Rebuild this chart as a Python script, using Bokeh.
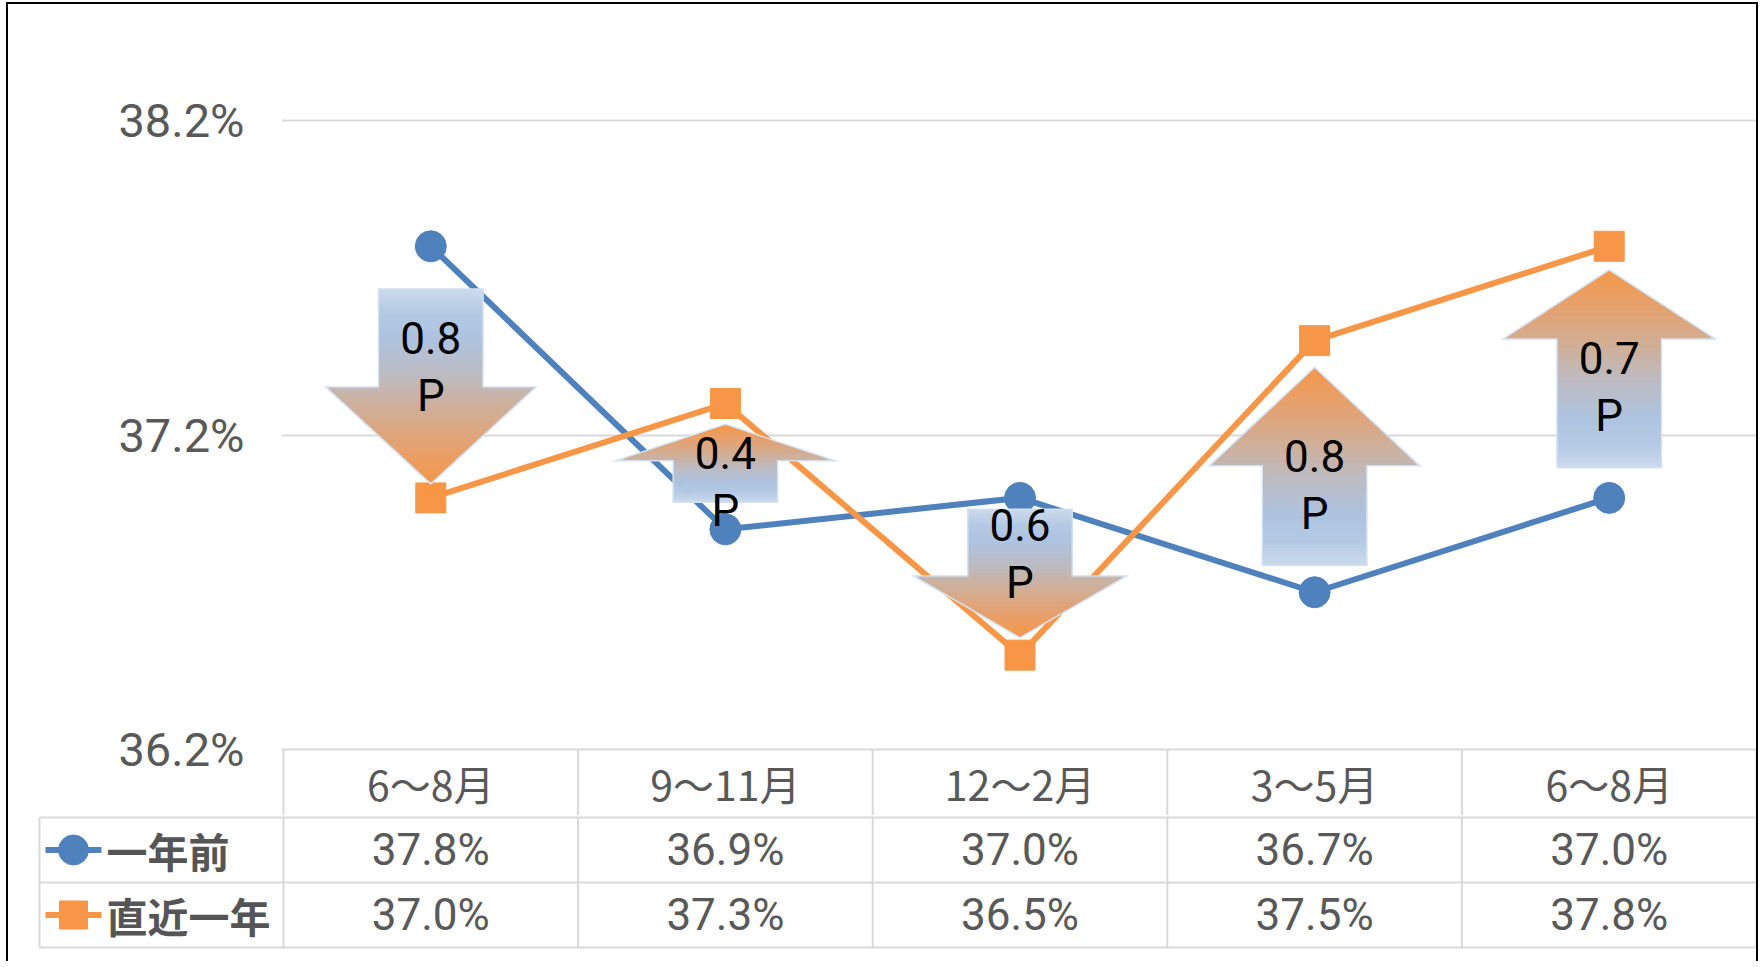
import numpy as np
from bokeh.plotting import figure
from bokeh.models import Range1d, FixedTicker, PrintfTickFormatter
from bokeh.layouts import column
from bokeh.core.properties import value
from bokeh.embed import file_html
from bokeh.resources import INLINE

# ---------------- data ----------------
categories = ["6～8月", "9～11月", "12～2月", "3～5月", "6～8月"]
series_names = ["一年前", "直近一年"]
year_ago = [37.8, 36.9, 37.0, 36.7, 37.0]
latest = [37.0, 37.3, 36.5, 37.5, 37.8]
diff_points = [0.8, 0.4, 0.6, 0.8, 0.7]   # labels written in the arrows
y_ticks = [36.2, 37.2, 38.2]

# ---------------- styles / layout (pixels) ----------------
BLUE = "#4f81bd"
ORANGE = "#f79646"
GRID = "#d9d9d9"
TXT = "#595959"
NUM_FONT = "Roboto"
CJK_FONT = "Noto Sans CJK JP"

W = 1748               # inner width (inside border)
F1_LEFT = 273          # canvas px left of plot frame
PX_PER_CAT = 294.6
PX_PER_Y = 314.5       # px per 1 percentage point
TOP_PAD = 116          # px from frame top to top gridline
HEADER_H = 66          # header row of data table (inside figure 1 frame)
ROW_H = 65
F2_LEFT = 29           # canvas px left of table frame
TABLE_EDGE = 244       # px from table left line to first category column
LINE_W = 6

# arrow styling (per arrow, relative to the two data points)
tail_gap = [0.14, 0.09, 0.04, 0.09, 0.10]
tip_gap = [0.05, 0.07, 0.06, 0.09, 0.08]
head_frac = [0.49, 0.45, 0.47, 0.49, 0.34]
SHAFT_HALF = 51 / PX_PER_CAT
HEAD_HALF = 102 / PX_PER_CAT
grad_stops = [(0.0, "#cbdaed"), (0.12, "#b4c9e3"), (0.25, "#adc3e0"),
              (0.45, "#bdbac0"), (0.6, "#ceb09c"), (0.8, "#e3a272"), (1.0, "#f5984a")]


def hex2rgb(h):
    h = h.lstrip("#")
    return [int(h[i:i + 2], 16) for i in (0, 2, 4)]


def grad(s):
    for (s0, c0), (s1, c1) in zip(grad_stops[:-1], grad_stops[1:]):
        if s0 <= s <= s1:
            t = (s - s0) / (s1 - s0)
            a, b = hex2rgb(c0), hex2rgb(c1)
            r = [round(a[k] + (b[k] - a[k]) * t) for k in range(3)]
            return "#%02x%02x%02x" % tuple(r)
    return grad_stops[-1][1]


n_cat = len(categories)
x_end = n_cat - 0.5

# ---------------- figure 1: chart + header row ----------------
frame1_w = W - F1_LEFT
x1_start = x_end - frame1_w / PX_PER_CAT
y_end = y_ticks[-1] + TOP_PAD / PX_PER_Y
y_start = y_ticks[0] - HEADER_H / PX_PER_Y
frame1_h = int(round((y_end - y_start) * PX_PER_Y))

p = figure(width=W, height=frame1_h,
           x_range=Range1d(x1_start, x_end),
           y_range=Range1d(y_start, y_end),
           min_border_left=F1_LEFT, min_border_right=0,
           min_border_top=0, min_border_bottom=0,
           x_axis_location=None, frame_align=False,
           output_backend="svg", toolbar_location=None)
p.outline_line_color = None
p.background_fill_color = "white"
p.border_fill_color = "white"

yax = p.yaxis[0]
yax.ticker = FixedTicker(ticks=y_ticks)
yax.formatter = PrintfTickFormatter(format="%.1f%%")
yax.axis_line_color = None
yax.major_tick_line_color = None
yax.minor_tick_line_color = None
yax.major_tick_out = 0
yax.major_tick_in = 0
yax.minor_tick_out = 0
yax.major_label_standoff = 37
yax.major_label_text_font = NUM_FONT
yax.major_label_text_font_size = "47px"
yax.major_label_text_color = TXT

p.xgrid.visible = False
p.ygrid.ticker = FixedTicker(ticks=y_ticks)
p.ygrid.grid_line_color = GRID
p.ygrid.grid_line_width = 2

# header row of the data table (category labels + column separators)
sep_x = [i - 0.5 for i in range(n_cat + 1)]
p.segment(sep_x, [y_ticks[0]] * len(sep_x), sep_x, [y_start] * len(sep_x),
          line_color=GRID, line_width=2)
xs = list(range(n_cat))
header_y = y_ticks[0] - (HEADER_H / 2) / PX_PER_Y
p.text(xs, [header_y] * n_cat, text=categories, text_font=value(CJK_FONT),
       text_font_size="41px", text_color=TXT, text_align="center", text_baseline="middle")

p.line(xs, year_ago, line_color=BLUE, line_width=LINE_W)
p.scatter(xs, year_ago, marker="circle", size=31, fill_color=BLUE, line_color=BLUE)
p.line(xs, latest, line_color=ORANGE, line_width=LINE_W)
p.scatter(xs, latest, marker="square", size=30, fill_color=ORANGE, line_color=ORANGE)

# gradient arrows
out_xs, out_ys = [], []
strip_xs, strip_ys, strip_cols = [], [], []
txt_x, txt_y, txt = [], [], []
for i, (a, b) in enumerate(zip(year_ago, latest)):
    d = 1 if b > a else -1
    tail = a + d * tail_gap[i]
    tip = b - d * tip_gap[i]
    L = tip - tail
    hf = head_frac[i]
    base = tip - hf * L
    x = xs[i]
    out_xs.append([x - SHAFT_HALF, x + SHAFT_HALF, x + SHAFT_HALF, x + HEAD_HALF, x,
                   x - HEAD_HALF, x - SHAFT_HALF])
    out_ys.append([tail, tail, base, base, tip, base, base])

    n_sh, n_hd = 30, 30
    bounds = list(np.linspace(0, 1 - hf, n_sh + 1)) + list(np.linspace(1 - hf, 1, n_hd + 1))[1:]
    for k, (s0, s1) in enumerate(zip(bounds[:-1], bounds[1:])):
        y0 = tail + s0 * L
        y1 = tail + s1 * L
        if k < n_sh:
            w0 = w1 = SHAFT_HALF
        else:
            w0 = HEAD_HALF * (1 - s0) / hf
            w1 = HEAD_HALF * (1 - s1) / hf
        strip_xs.append([x - w0, x + w0, x + w1, x - w1])
        strip_ys.append([y0, y0, y1, y1])
        strip_cols.append(grad((s0 + s1) / 2))
    txt_x.append(x)
    txt_y.append((tail + tip) / 2 - d * 0.06)
    txt.append("%.1f\nP" % diff_points[i])

p.patches(out_xs, out_ys, fill_color=None, line_color="#d3e1f2", line_width=4, line_join="miter")
p.patches(strip_xs, strip_ys, fill_color=strip_cols, line_color=strip_cols, line_width=1)
p.text(txt_x, txt_y, text=txt, text_font=value(NUM_FONT), text_font_size="44px",
       text_color="black", text_align="center", text_baseline="middle", text_line_height=1.1)

# ---------------- figure 2: table body ----------------
frame2_w = W - F2_LEFT
x2_start = x_end - frame2_w / PX_PER_CAT
table_left = -0.5 - TABLE_EDGE / PX_PER_CAT
pad = 2 / ROW_H
n_rows = len(series_names)
p2 = figure(width=W, height=n_rows * ROW_H + 4 + 12,
            x_range=Range1d(x2_start, x_end),
            y_range=Range1d(-pad, n_rows + pad),
            min_border_left=F2_LEFT, min_border_right=0,
            min_border_top=0, min_border_bottom=12,
            x_axis_location=None, y_axis_location=None, frame_align=False,
            output_backend="svg", toolbar_location=None)
p2.outline_line_color = None
p2.grid.visible = False

hy = list(range(n_rows + 1))
p2.segment([table_left] * len(hy), hy, [x_end] * len(hy), hy, line_color=GRID, line_width=2)
vx = [table_left] + sep_x
p2.segment(vx, [0] * len(vx), vx, [n_rows] * len(vx), line_color=GRID, line_width=2)

for r, (name, vals, col, mk, ms) in enumerate(zip(series_names, [year_ago, latest],
                                                   [BLUE, ORANGE], ["circle", "square"], [30, 28])):
    ry = n_rows - r - 0.5
    p2.text(xs, [ry] * n_cat, text=["%.1f%%" % v for v in vals], text_font=value(NUM_FONT),
            text_font_size="44px", text_color=TXT, text_align="center", text_baseline="middle")
    lx0 = table_left + 6 / PX_PER_CAT
    lx1 = table_left + 62 / PX_PER_CAT
    p2.line([lx0, lx1], [ry, ry], line_color=col, line_width=LINE_W)
    p2.scatter([(lx0 + lx1) / 2], [ry], marker=mk, size=ms, fill_color=col, line_color=col)
    p2.text([table_left + 67 / PX_PER_CAT], [ry], text=[name], text_font=value(CJK_FONT),
            text_font_size="41px", text_font_style="bold", text_color="#555555",
            text_align="left", text_baseline="middle")

layout = column(p, p2, spacing=0,
                styles={"border-left": "2px solid black", "border-top": "2px solid black",
                        "border-right": "2px solid black",
                        "margin-left": "6px", "margin-top": "2px"})

open("out.html", "w").write(file_html(layout, INLINE))
